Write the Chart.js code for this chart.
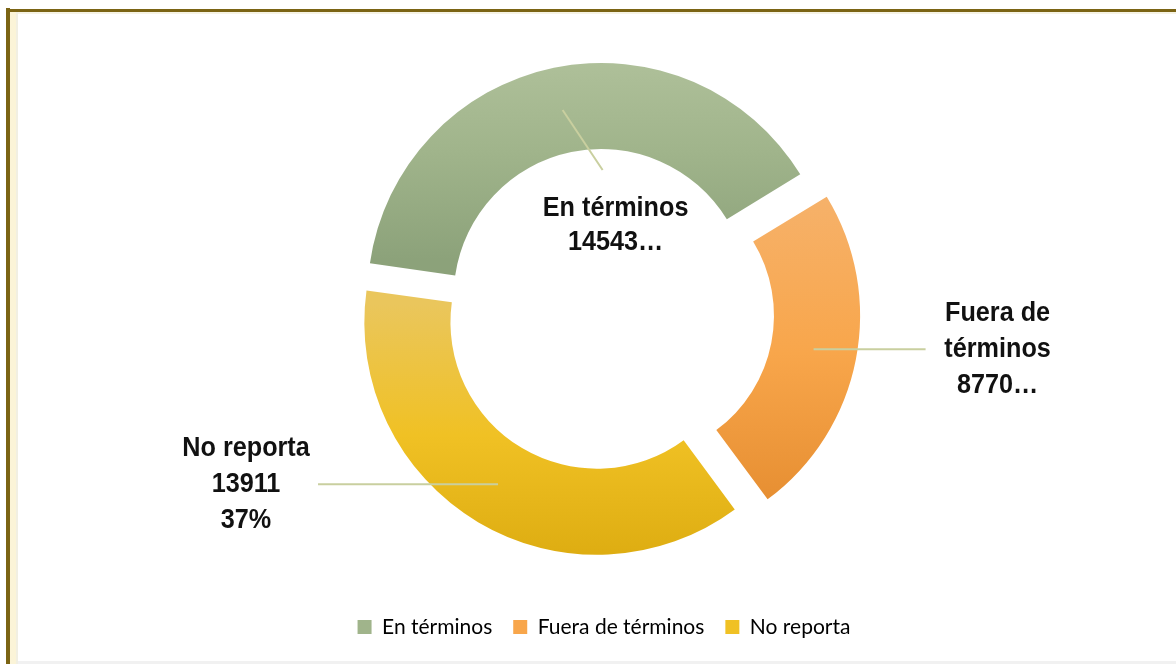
<!DOCTYPE html>
<html>
<head>
<meta charset="utf-8">
<script src="https://cdn.jsdelivr.net/npm/chart.js@4/dist/chart.umd.min.js"></script>
<style>
  html, body { margin: 0; padding: 0; background: #fff; }
  body { width: 1176px; height: 664px; position: relative; overflow: hidden; }
  .frame-top { position: absolute; left: 6px; top: 9px; width: 1170px; height: 3px; background: #7b6414; }
  .frame-top-shade { position: absolute; left: 10px; top: 12px; width: 1166px; height: 2px; background: #f6f3e4; }
  .frame-left { position: absolute; left: 6px; top: 8px; width: 4px; height: 656px; background: #7b6414; }
  .frame-cream { position: absolute; left: 10px; top: 12px; width: 6px; height: 652px; background: #fbf4d8; }
  .frame-cream2 { position: absolute; left: 16px; top: 12px; width: 2px; height: 652px; background: #f1efe2; }
  .frame-bottom { position: absolute; left: 18px; top: 661px; width: 1158px; height: 3px; background: #f1f1f1; }
  #wrap { position: absolute; left: 18px; top: 13px; width: 1158px; height: 648px; }
</style>
</head>
<body>
<div class="frame-top"></div>
<div class="frame-top-shade"></div>
<div class="frame-left"></div>
<div class="frame-cream"></div>
<div class="frame-cream2"></div>
<div class="frame-bottom"></div>
<div id="wrap"><canvas id="donut" width="1158" height="648"></canvas></div>
<script>
// datos
const categories = ["En términos", "Fuera de términos", "No reporta"];
const values = [14543, 8770, 13911];
// etiquetas de datos tal como aparecen (recortadas)
const labelLines = [
  ["En términos", "14543…"],
  ["Fuera de", "términos", "8770…"],
  ["No reporta", "13911", "37%"],
];

// estilo
const RADIUS = 228.5;
const explode = [56, 112, 56];
const topColors = ["#b1c29c", "#f6b169", "#eac65c"];
const midColors = ["#a0b48b", "#f8a64b", "#f0c124"];
const bottomColors = ["#8ca27a", "#e68e31", "#dcab10"];
const gradFrom = [-1.1, -0.5, -0.08]; // relativo al radio, desde el centro
const gradTo = [-0.16, 0.83, 1.07];

function sliceFill(context) {
  const chart = context.chart;
  const area = chart.chartArea;
  const i = context.dataIndex;
  if (!area || i === undefined) return midColors[i || 0];
  const cy = (area.top + area.bottom) / 2;
  const g = chart.ctx.createLinearGradient(0, cy + gradFrom[i] * RADIUS, 0, cy + gradTo[i] * RADIUS);
  g.addColorStop(0, topColors[i]);
  g.addColorStop(0.5, midColors[i]);
  g.addColorStop(1, bottomColors[i]);
  return g;
}

// etiquetas con líneas guía
const leaderLabels = {
  id: "leaderLabels",
  afterDatasetsDraw(chart) {
    const ctx = chart.ctx;
    const meta = chart.getDatasetMeta(0);
    ctx.save();
    ctx.font = "bold 28px 'Liberation Sans', Arial, sans-serif";
    ctx.fillStyle = "#111";
    ctx.textAlign = "center";
    ctx.textBaseline = "middle";
    ctx.strokeStyle = "#c9cf9f";
    ctx.lineWidth = 2;
    meta.data.forEach((arc, i) => {
      const p = arc.getProps(["x", "y", "startAngle", "endAngle", "innerRadius", "outerRadius", "circumference"], true);
      const mid = (p.startAngle + p.endAngle) / 2;
      const shift = (arc.options.offset || 0) / 4;
      const fix = 1 - Math.sin(Math.min(Math.PI, p.circumference));
      const rin = p.innerRadius + shift * fix;
      const rout = p.outerRadius + shift * fix;
      const cx = p.x + Math.cos(mid) * shift;
      const cy = p.y + Math.sin(mid) * shift;
      const rm = (rin + rout) / 2;
      const ax = cx + Math.cos(mid) * rm;
      const ay = cy + Math.sin(mid) * rm;
      let tx, ty;
      ctx.beginPath();
      if (i === 0) {
        const sx = ax, sy = ay;
        ctx.moveTo(sx, sy);
        ctx.lineTo(sx + 40, sy + 60);
        tx = sx + 53;
        ty = sy + 115;
      } else if (i === 1) {
        ctx.moveTo(ax, ay - 2);
        ctx.lineTo(ax + 112, ay - 2);
        tx = ax + 184;
        ty = ay - 2;
      } else {
        ctx.moveTo(ax - 2, ay - 1);
        ctx.lineTo(ax - 182, ay - 1);
        tx = ax - 254;
        ty = ay - 1;
      }
      ctx.stroke();
      const lines = labelLines[i];
      const lh = i === 0 ? 34 : 36;
      const y0 = ty - (lines.length - 1) * lh / 2;
      lines.forEach((t, k) => {
        ctx.save();
        ctx.translate(tx, y0 + k * lh);
        ctx.scale(0.9, 1);
        ctx.fillText(t, 0, 0);
        ctx.restore();
      });
    });
    ctx.restore();
  }
};

new Chart(document.getElementById("donut"), {
  type: "doughnut",
  data: {
    labels: categories,
    datasets: [{
      data: values,
      backgroundColor: sliceFill,
      borderWidth: 0,
      offset: explode,
      hoverOffset: 0,
    }],
  },
  options: {
    responsive: false,
    animation: false,
    rotation: -82,
    radius: RADIUS,
    cutout: "62.3%",
    layout: { padding: { top: 12, bottom: 13.5, left: 14, right: 0 } },
    plugins: {
      tooltip: { enabled: false },
      legend: {
        display: true,
        position: "bottom",
        labels: {
          font: { family: "Lato, 'Open Sans', sans-serif", size: 21 },
          color: "#4a4f33",
          boxWidth: 14,
          boxHeight: 14,
          padding: 21,
          generateLabels(chart) {
            return chart.data.labels.map((t, i) => ({
              text: t,
              fillStyle: midColors[i],
              strokeStyle: "rgba(0,0,0,0)",
              lineWidth: 0,
              index: i,
              hidden: false,
            }));
          },
        },
      },
    },
  },
  plugins: [leaderLabels],
});
</script>
</body>
</html>
